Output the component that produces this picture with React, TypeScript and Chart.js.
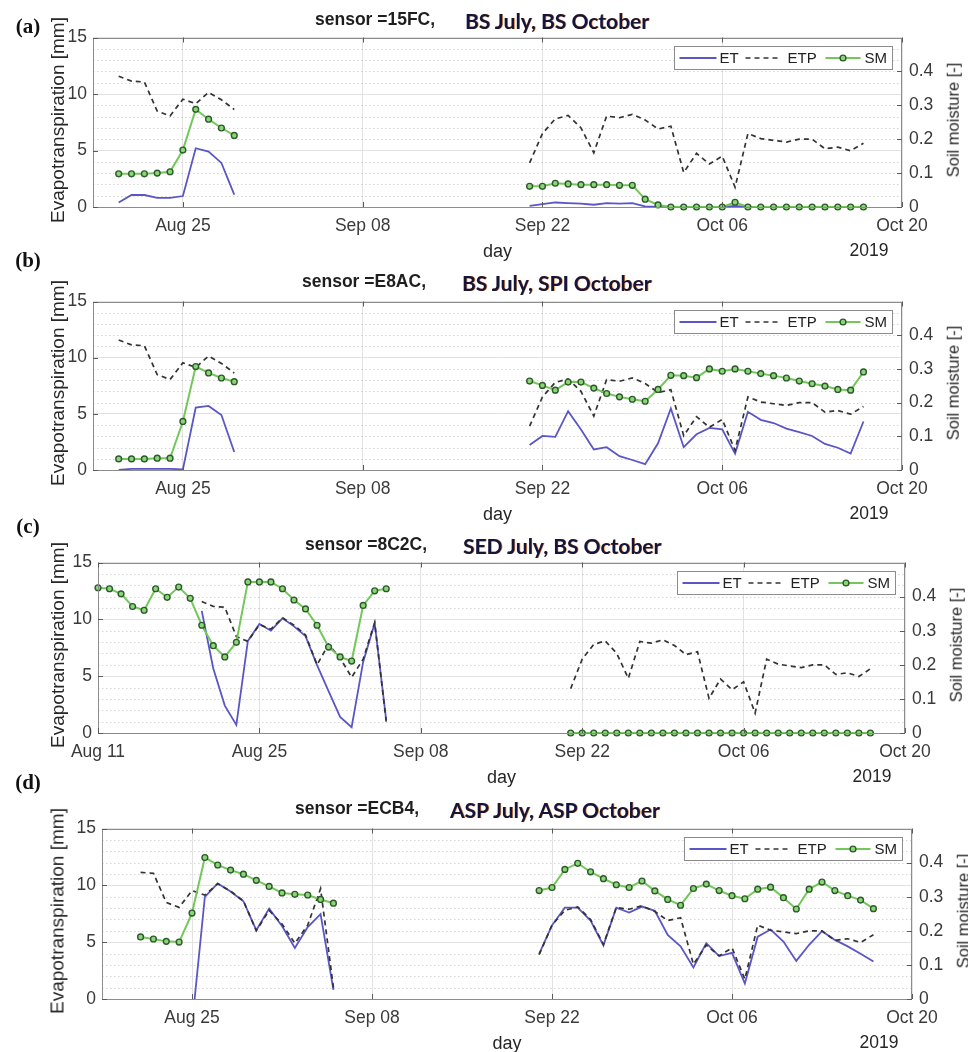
import React, { useEffect, useRef } from 'react';
import { Chart, registerables } from 'chart.js';

Chart.register(...registerables);

// ---- x axis: day numbers counted from Aug 11, 2019 ----
const TICK_DAYS = [0, 14, 28, 42, 56, 70];
const TICK_LABELS = ['Aug 11', 'Aug 25', 'Sep 08', 'Sep 22', 'Oct 06', 'Oct 20'];
const X_MAX = 70;

const LEFT_TICKS = [0, 5, 10, 15];
const RIGHT_TICKS = [0, 0.1, 0.2, 0.3, 0.4];
const MINOR_Y = [1, 2, 3, 4, 6, 7, 8, 9, 11, 12, 13, 14];

// ---- reference evapotranspiration (ETP) ----
const ETP_AUG_START = 9;
const ETP_AUG = [11.57, 11.14, 11.06, 8.49, 8.06, 9.54, 9.14, 10.14, 9.49, 8.63, 6.0, 7.8, 6.6, 4.9, 6.5, 9.7, 1.0];
const OCT_START = 41;
const ETP_OCT = [3.9, 6.5, 7.8, 8.1, 7.0, 4.8, 8.05, 7.9, 8.2, 7.7, 6.9, 7.15, 3.05, 4.75, 3.8, 4.5, 1.75, 6.5, 6.05, 5.9, 5.75, 6.0, 6.0, 5.15, 5.3, 4.97, 5.65];

// ---- panel (a) sensor 15FC ----
const A_AUG_START = 9;
const A_ET_AUG = [0.4, 1.06, 1.06, 0.8, 0.8, 0.97, 5.2, 4.9, 3.9, 1.1];
const A_SM_AUG = [0.098, 0.098, 0.098, 0.1, 0.104, 0.168, 0.288, 0.259, 0.233, 0.211];
const A_ET_OCT = [0.1, 0.25, 0.4, 0.35, 0.3, 0.2, 0.35, 0.3, 0.35, 0.05, 0, 0, 0, 0, 0, 0, 0.1, 0, 0, 0, 0, 0, 0, 0, 0, 0, 0];
const A_SM_OCT = [0.061, 0.061, 0.07, 0.068, 0.066, 0.066, 0.066, 0.064, 0.064, 0.023, 0.006, 0, 0, 0, 0, 0, 0.014, 0, 0, 0, 0, 0, 0, 0, 0, 0, 0];

// ---- panel (b) sensor E8AC ----
const B_AUG_START = 9;
const B_ET_AUG = [0.0, 0.1, 0.1, 0.1, 0.1, 0.05, 5.55, 5.7, 4.9, 1.6];
const B_SM_AUG = [0.033, 0.033, 0.033, 0.035, 0.035, 0.144, 0.307, 0.288, 0.273, 0.262];
const B_ET_OCT = [2.23, 3.03, 2.95, 5.24, 3.61, 1.83, 2.03, 1.23, 0.89, 0.52, 2.38, 5.47, 2.03, 3.18, 3.75, 3.61, 1.46, 5.18, 4.47, 4.18, 3.69, 3.38, 3.03, 2.32, 1.98, 1.46, 4.32];
const B_SM_OCT = [0.264, 0.251, 0.237, 0.261, 0.261, 0.243, 0.227, 0.217, 0.21, 0.204, 0.239, 0.281, 0.28, 0.274, 0.3, 0.293, 0.3, 0.293, 0.286, 0.28, 0.273, 0.264, 0.256, 0.249, 0.239, 0.237, 0.291];

// ---- panel (c) sensor 8C2C ----
const C_SM_AUG_START = 0;
const C_SM_AUG = [0.426, 0.423, 0.408, 0.371, 0.36, 0.423, 0.398, 0.428, 0.395, 0.316, 0.256, 0.223, 0.266, 0.443, 0.443, 0.443, 0.423, 0.39, 0.364, 0.316, 0.252, 0.223, 0.211, 0.374, 0.417, 0.423];
const C_ET_AUG_START = 9;
const C_ET_AUG = [10.74, 5.68, 2.41, 0.71, 8.1, 9.6, 9.0, 10.09, 9.38, 8.52, 5.97, 3.69, 1.42, 0.51, 6.25, 9.66, 1.14];
const C_SM_OCT = [0, 0, 0, 0, 0, 0, 0, 0, 0, 0, 0, 0, 0, 0, 0, 0, 0, 0, 0, 0, 0, 0, 0, 0, 0, 0, 0];

// ---- panel (d) sensor ECB4 ----
const D_SM_AUG_START = 10;
const D_SM_AUG = [0.182, 0.176, 0.169, 0.167, 0.252, 0.415, 0.393, 0.378, 0.366, 0.348, 0.33, 0.311, 0.307, 0.305, 0.292, 0.281];
const D_ET_AUG_START = 14;
const D_ET_AUG = [-2.3, 8.98, 10.17, 9.46, 8.6, 6.05, 7.95, 6.42, 4.49, 6.33, 7.47, 0.8];
const D_ET_OCT = [3.98, 6.48, 8.04, 8.04, 6.9, 4.72, 8.04, 7.61, 8.13, 7.76, 5.63, 4.63, 2.78, 4.91, 3.78, 4.06, 1.36, 5.48, 6.11, 5.06, 3.35, 4.77, 5.97, 5.2, 4.63, 3.98, 3.3];
const D_SM_OCT = [0.318, 0.327, 0.38, 0.398, 0.373, 0.353, 0.335, 0.327, 0.346, 0.317, 0.292, 0.275, 0.324, 0.337, 0.318, 0.303, 0.294, 0.322, 0.328, 0.297, 0.264, 0.322, 0.343, 0.318, 0.303, 0.29, 0.265];

type Pt = { x: number; y: number | null };
type Seg = [number, number[]];

function build(segs: Seg[]): Pt[] {
  const out: Pt[] = [];
  segs.forEach(([start, vals], k) => {
    if (k > 0) out.push({ x: start - 0.5, y: null });
    vals.forEach((v, i) => out.push({ x: start + i, y: v }));
  });
  return out;
}

interface PanelDef {
  letter: string;
  sensor: string;
  sites: string;
  xMin: number;
  geom: { left: number; right: number; top: number; bottom: number };
  titleY: number;
  letterY: number;
  titleX1: number;
  titleX2: number;
  et: Seg[];
  etp: Seg[];
  sm: Seg[];
}

const PANELS: PanelDef[] = [
  {
    letter: '(a)', sensor: 'sensor =15FC,', sites: 'BS July, BS October', xMin: 7,
    geom: { left: 93, right: 902, top: 32, bottom: 207 }, titleY: 20, letterY: 26, titleX1: 315, titleX2: 465,
    et: [[A_AUG_START, A_ET_AUG], [OCT_START, A_ET_OCT]],
    etp: [[ETP_AUG_START, ETP_AUG.slice(0, 10)], [OCT_START, ETP_OCT]],
    sm: [[A_AUG_START, A_SM_AUG], [OCT_START, A_SM_OCT]],
  },
  {
    letter: '(b)', sensor: 'sensor =E8AC,', sites: 'BS July, SPI October', xMin: 7,
    geom: { left: 93, right: 902, top: 296, bottom: 470 }, titleY: 282, letterY: 260, titleX1: 302, titleX2: 462,
    et: [[B_AUG_START, B_ET_AUG], [OCT_START, B_ET_OCT]],
    etp: [[ETP_AUG_START, ETP_AUG.slice(0, 10)], [OCT_START, ETP_OCT]],
    sm: [[B_AUG_START, B_SM_AUG], [OCT_START, B_SM_OCT]],
  },
  {
    letter: '(c)', sensor: 'sensor =8C2C,', sites: 'SED July, BS October', xMin: 0,
    geom: { left: 98, right: 905, top: 557, bottom: 733 }, titleY: 545, letterY: 526, titleX1: 305, titleX2: 463,
    et: [[C_ET_AUG_START, C_ET_AUG]],
    etp: [[ETP_AUG_START, ETP_AUG], [OCT_START, ETP_OCT]],
    sm: [[C_SM_AUG_START, C_SM_AUG], [OCT_START, C_SM_OCT]],
  },
  {
    letter: '(d)', sensor: 'sensor =ECB4,', sites: 'ASP July, ASP October', xMin: 7,
    geom: { left: 102, right: 912, top: 823, bottom: 999 }, titleY: 809, letterY: 782, titleX1: 295, titleX2: 450,
    et: [[D_ET_AUG_START, D_ET_AUG], [OCT_START, D_ET_OCT]],
    etp: [[ETP_AUG_START + 1, ETP_AUG.slice(1)], [OCT_START, ETP_OCT]],
    sm: [[D_SM_AUG_START, D_SM_AUG], [OCT_START, D_SM_OCT]],
  },
];

const W = 968;
const PAD_TOP = 12;
const X_H = 60;
const SANS = '"Liberation Sans", Arial, Helvetica, sans-serif';
const TICK_COLOR = '#3a3a3a';
const ET_COLOR = '#5a56c6';
const ETP_COLOR = '#333333';
const SM_COLOR = '#74c85a';
const SM_EDGE = '#2b5b2b';
const SM_FACE = '#8ed478';
const FRAME = '#8c8c8c';

const decorPlugin = {
  id: 'decor',
  beforeDatasetsDraw(chart: any) {
    const { ctx, chartArea: a, scales } = chart;
    const y = scales.y;
    ctx.save();
    ctx.strokeStyle = 'rgba(0,0,0,0.16)';
    ctx.lineWidth = 1;
    ctx.setLineDash([1.5, 2.5]);
    MINOR_Y.forEach((v) => {
      const py = Math.round(y.getPixelForValue(v)) + 0.5;
      ctx.beginPath();
      ctx.moveTo(a.left, py);
      ctx.lineTo(a.right, py);
      ctx.stroke();
    });
    ctx.restore();
  },
  afterDraw(chart: any) {
    const { ctx, chartArea: a, scales } = chart;
    ctx.save();
    // frame
    ctx.strokeStyle = FRAME;
    ctx.lineWidth = 1;
    ctx.strokeRect(Math.round(a.left) + 0.5, Math.round(a.top) + 0.5, Math.round(a.right - a.left) - 1, Math.round(a.bottom - a.top) - 1);
    // inward tick marks
    ctx.strokeStyle = '#5a5a5a';
    const tl = 5;
    scales.x.ticks.forEach((t: any) => {
      const px = Math.round(scales.x.getPixelForValue(t.value)) + 0.5;
      ctx.beginPath();
      ctx.moveTo(px, a.bottom); ctx.lineTo(px, a.bottom - tl);
      ctx.moveTo(px, a.top); ctx.lineTo(px, a.top + tl);
      ctx.stroke();
    });
    LEFT_TICKS.forEach((v) => {
      const py = Math.round(scales.y.getPixelForValue(v)) + 0.5;
      ctx.beginPath(); ctx.moveTo(a.left, py); ctx.lineTo(a.left + tl, py); ctx.stroke();
    });
    RIGHT_TICKS.forEach((v) => {
      const py = Math.round(scales.y1.getPixelForValue(v)) + 0.5;
      ctx.beginPath(); ctx.moveTo(a.right, py); ctx.lineTo(a.right - tl, py); ctx.stroke();
    });
    // legend box
    const ds = chart.data.datasets;
    const bw = 218, bh = 23;
    const L = Math.round(a.right - 10 - bw) + 0.5;
    const T = Math.round(a.top + 8) + 0.5;
    ctx.fillStyle = '#ffffff';
    ctx.fillRect(L, T, bw, bh);
    ctx.strokeStyle = FRAME;
    ctx.strokeRect(L, T, bw, bh);
    const cy = T + bh / 2;
    ctx.font = `15px ${SANS}`;
    ctx.textBaseline = 'middle';
    ctx.fillStyle = '#222';
    // ET
    ctx.strokeStyle = ds[0].borderColor; ctx.lineWidth = 2; ctx.setLineDash([]);
    ctx.beginPath(); ctx.moveTo(L + 5, cy); ctx.lineTo(L + 42, cy); ctx.stroke();
    ctx.fillText(ds[0].label, L + 45, cy + 1);
    // ETP
    ctx.strokeStyle = ds[1].borderColor; ctx.lineWidth = 1.7; ctx.setLineDash([5, 4]);
    ctx.beginPath(); ctx.moveTo(L + 71, cy); ctx.lineTo(L + 106, cy); ctx.stroke();
    ctx.setLineDash([]);
    ctx.fillText(ds[1].label, L + 113, cy + 1);
    // SM
    ctx.strokeStyle = ds[2].borderColor; ctx.lineWidth = 2;
    ctx.beginPath(); ctx.moveTo(L + 151, cy); ctx.lineTo(L + 186, cy); ctx.stroke();
    ctx.beginPath(); ctx.arc(L + 168.5, cy, 2.9, 0, Math.PI * 2);
    ctx.fillStyle = ds[2].pointBackgroundColor; ctx.fill();
    ctx.strokeStyle = ds[2].pointBorderColor; ctx.lineWidth = 1.4; ctx.stroke();
    ctx.fillStyle = '#222';
    ctx.fillText(ds[2].label, L + 190, cy + 1);
    ctx.restore();
  },
};

function fmtRight(v: number): string {
  if (v > 0.45) return '';
  return String(Number(v.toFixed(1)));
}

function PanelChart({ p }: { p: PanelDef }) {
  const ref = useRef<HTMLCanvasElement | null>(null);
  const g = p.geom;
  const canvasTop = g.top - PAD_TOP;
  const canvasH = g.bottom - g.top + PAD_TOP + X_H;

  useEffect(() => {
    if (!ref.current) return;
    const tickFont = { family: SANS, size: 17.5 };
    const chart = new Chart(ref.current, {
      type: 'line',
      data: {
        datasets: [
          {
            label: 'ET', data: build(p.et) as any, yAxisID: 'y', borderColor: ET_COLOR, borderWidth: 1.8,
            pointRadius: 0, tension: 0, spanGaps: false, order: 3,
          },
          {
            label: 'ETP', data: build(p.etp) as any, yAxisID: 'y', borderColor: ETP_COLOR, borderWidth: 1.7,
            borderDash: [5, 4], pointRadius: 0, tension: 0, spanGaps: false, order: 2,
          },
          {
            label: 'SM', data: build(p.sm) as any, yAxisID: 'y1', borderColor: SM_COLOR, borderWidth: 2,
            pointRadius: 2.9, pointBorderWidth: 1.4, pointBorderColor: SM_EDGE, pointBackgroundColor: SM_FACE,
            tension: 0, spanGaps: false, order: 1, clip: false as any,
          },
        ],
      },
      options: {
        responsive: false,
        maintainAspectRatio: false,
        animation: false,
        devicePixelRatio: 1,
        layout: { padding: { top: PAD_TOP, left: 0, right: 0, bottom: 0 } },
        plugins: { legend: { display: false }, tooltip: { enabled: false }, title: { display: false } },
        scales: {
          x: {
            type: 'linear', min: p.xMin, max: X_MAX,
            afterBuildTicks: (s: any) => {
              s.ticks = TICK_DAYS.filter((d) => d >= p.xMin).map((v) => ({ value: v }));
            },
            afterFit: (s: any) => { s.height = X_H; },
            ticks: {
              autoSkip: false, maxRotation: 0, minRotation: 0, padding: 9, font: tickFont, color: TICK_COLOR,
              callback: (v: any) => TICK_LABELS[TICK_DAYS.indexOf(Number(v))] ?? '',
            },
            grid: { color: '#e2e2e2', drawTicks: false, lineWidth: 1 },
            border: { display: false },
          },
          y: {
            position: 'left', min: 0, max: 15,
            afterFit: (s: any) => { s.width = g.left; },
            ticks: { stepSize: 5, padding: 6, font: tickFont, color: TICK_COLOR },
            grid: { color: '#e2e2e2', drawTicks: false },
            border: { display: false },
          },
          y1: {
            position: 'right', min: 0, max: 0.5,
            afterFit: (s: any) => { s.width = W - g.right; },
            ticks: { stepSize: 0.1, padding: 7, font: tickFont, color: TICK_COLOR, callback: (v: any) => fmtRight(Number(v)) },
            grid: { drawOnChartArea: false, drawTicks: false },
            border: { display: false },
          },
        },
      } as any,
      plugins: [decorPlugin],
    });
    return () => chart.destroy();
  }, []);

  const label: React.CSSProperties = { position: 'absolute', whiteSpace: 'nowrap', lineHeight: 1 };
  const centered = (x: number, y: number, rot: number, style: React.CSSProperties, text: string) => (
    <div style={{ position: 'absolute', left: x, top: y, width: 0, height: 0 }}>
      <span
        style={{
          ...label,
          left: 0,
          top: 0,
          transform: `translate(-50%, -50%) rotate(${rot}deg)`,
          ...style,
        }}
      >
        {text}
      </span>
    </div>
  );
  const midY = (g.top + g.bottom) / 2;
  const axisTitle: React.CSSProperties = { fontFamily: SANS, color: '#262626' };

  return (
    <>
      <canvas ref={ref} width={W} height={canvasH} style={{ position: 'absolute', left: 0, top: canvasTop, width: W, height: canvasH }} />
      {centered(28, p.letterY, 0, { fontFamily: '"Liberation Serif", "Times New Roman", serif', fontWeight: 700, fontSize: 21, color: '#111' }, p.letter)}
      <span style={{ ...label, left: p.titleX1, top: p.titleY, transform: 'translateY(-50%)', fontFamily: SANS, fontWeight: 700, fontSize: 17.5, color: '#1e1e1e' }}>
        {p.sensor}
      </span>
      <span
        style={{
          ...label, left: p.titleX2, top: p.titleY, transform: 'translateY(-50%)', fontFamily: 'Lato, "Open Sans", sans-serif',
          fontWeight: 700, fontSize: 21, color: '#15153c', textShadow: '0.7px 0.7px 0.6px rgba(226,120,30,0.85)',
        }}
      >
        {p.sites}
      </span>
      {centered(57, midY, -90, { ...axisTitle, fontSize: 19 }, 'Evapotranspiration [mm]')}
      {centered(g.right + 51, midY, -90, { ...axisTitle, fontSize: 16.5 }, 'Soil moisture [-]')}
      {centered((g.left + g.right) / 2, g.bottom + 44, 0, { ...axisTitle, fontSize: 18 }, 'day')}
      {centered(g.right - 33, g.bottom + 44, 0, { ...axisTitle, fontSize: 17.5 }, '2019')}
    </>
  );
}

export default function App() {
  return (
    <div style={{ position: 'absolute', left: 0, top: 0, width: W, height: 1052, background: '#ffffff', overflow: 'hidden' }}>
      {PANELS.map((p) => (
        <PanelChart key={p.letter} p={p} />
      ))}
    </div>
  );
}
